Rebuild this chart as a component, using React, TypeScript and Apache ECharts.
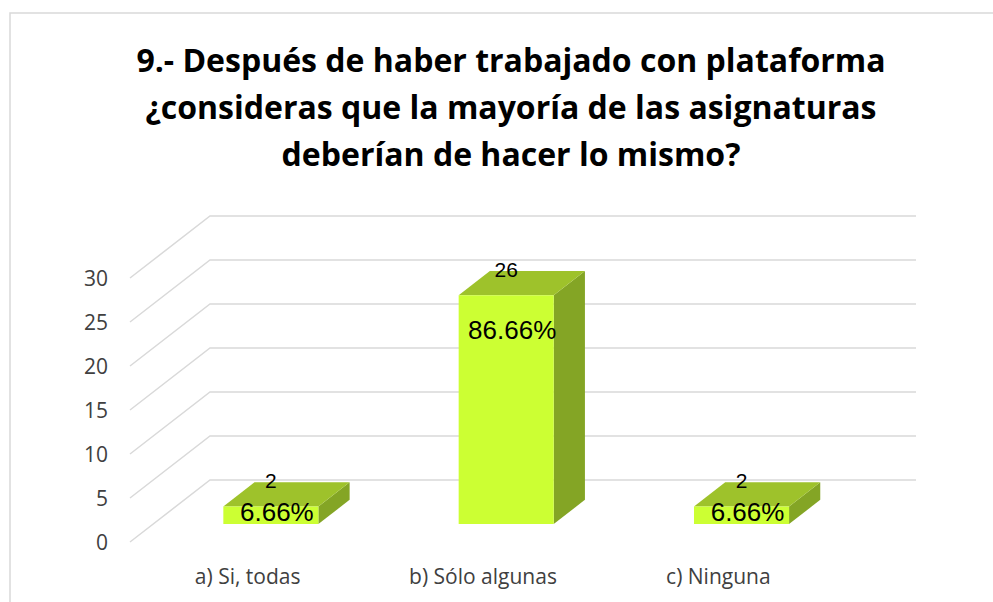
import React, { useEffect, useRef } from "react";
import * as echarts from "echarts";

// ---- data ----
const titleLines = [
  "9.- Después de haber trabajado con plataforma",
  "¿consideras que la mayoría de las asignaturas",
  "deberían de hacer lo mismo?",
];
const categories = ["a) Si, todas", "b) Sólo algunas", "c) Ninguna"];
const counts = [2, 26, 2];
const percentLabels = ["6.66%", "86.66%", "6.66%"];
const yTicks = [0, 5, 10, 15, 20, 25, 30];

// ---- style / layout ----
const DEPTH_X = 80;
const DEPTH_Y = -62;
const BAR_FRONT = 0.29;
const BAR_BACK = 0.68;
const BAR_WIDTH_RATIO = 0.404;
const FRONT = "#CCFF33";
const TOP = "#9EC22B";
const SIDE = "#84A525";
const GRID = "#D9D9D9";
const TEXT = "#404040";

export default function App() {
  const ref = useRef<HTMLDivElement>(null);
  useEffect(() => {
    if (!ref.current) return;
    const chart = echarts.init(ref.current, null, { renderer: "svg" });
    const option: any = {
      animation: false,
      backgroundColor: "#ffffff",
      title: {
        text: titleLines.join("\n"),
        left: 506,
        top: 31,
        textAlign: "center",
        textStyle: {
          fontFamily: "Open Sans",
          fontWeight: "bold",
          fontSize: 32,
          lineHeight: 47,
          color: "#000000",
        },
      },
      graphic: [
        {
          type: "rect",
          shape: { x: 10, y: 13, width: 1100, height: 700 },
          style: { fill: "none", stroke: GRID, lineWidth: 1.5 },
          silent: true,
        },
      ],
      grid: { left: 130, right: 157, top: 278, bottom: 60 },
      xAxis: {
        type: "category",
        data: categories,
        axisLine: { show: false },
        axisTick: { show: false },
        axisLabel: {
          margin: 23,
          fontSize: 21,
          fontFamily: "Open Sans",
          color: TEXT,
        },
      },
      yAxis: {
        type: "value",
        min: 0,
        max: 30,
        interval: 5,
        axisLine: { show: false },
        axisTick: { show: false },
        splitLine: { show: false },
        axisLabel: {
          margin: 22,
          fontSize: 21,
          fontFamily: "Open Sans",
          color: TEXT,
        },
      },
      series: [
        {
          type: "custom",
          silent: true,
          z: 1,
          data: yTicks.map((v) => [0, v]),
          renderItem: (params: any, api: any) => {
            const cs = params.coordSys;
            const y = api.coord([0, api.value(1)])[1];
            return {
              type: "polyline",
              shape: {
                points: [
                  [cs.x, y],
                  [cs.x + DEPTH_X, y + DEPTH_Y],
                  [cs.x + cs.width + DEPTH_X, y + DEPTH_Y],
                ],
              },
              style: { stroke: GRID, lineWidth: 1.5, fill: "none" },
            };
          },
        },
        {
          type: "custom",
          silent: true,
          z: 2,
          data: counts.map((v, i) => [i, v]),
          renderItem: (params: any, api: any) => {
            const i = api.value(0);
            const v = api.value(1);
            const band = api.size([1, 0])[0];
            const [cx, y0] = api.coord([i, 0]);
            const yv = api.coord([i, v])[1];
            const fx = DEPTH_X * BAR_FRONT;
            const fy = DEPTH_Y * BAR_FRONT;
            const dx = DEPTH_X * (BAR_BACK - BAR_FRONT);
            const dy = DEPTH_Y * (BAR_BACK - BAR_FRONT);
            const w = band * BAR_WIDTH_RATIO;
            const x0 = cx - w / 2 + fx;
            const x1 = cx + w / 2 + fx;
            const yt = yv + fy;
            const yb = y0 + fy;
            const h = yb - yt;
            return {
              type: "group",
              children: [
                {
                  type: "polygon",
                  shape: { points: [[x1, yt], [x1 + dx, yt + dy], [x1 + dx, yb + dy], [x1, yb]] },
                  style: { fill: SIDE },
                },
                {
                  type: "polygon",
                  shape: { points: [[x0, yt], [x1, yt], [x1 + dx, yt + dy], [x0 + dx, yt + dy]] },
                  style: { fill: TOP },
                },
                {
                  type: "rect",
                  shape: { x: x0, y: yt, width: w, height: h },
                  style: { fill: FRONT },
                },
                {
                  type: "text",
                  x: (x0 + x1) / 2 + 6,
                  y: yt + Math.min(35, h * 0.3),
                  style: {
                    text: percentLabels[i],
                    fill: "#000000",
                    font: "26px 'Liberation Sans'",
                    textAlign: "center",
                    textVerticalAlign: "middle",
                  },
                },
                {
                  type: "text",
                  x: cx + fx,
                  y: yt + dy - 2,
                  style: {
                    text: String(v),
                    fill: "#000000",
                    font: "21px 'Liberation Sans'",
                    textAlign: "center",
                    textVerticalAlign: "middle",
                  },
                },
              ],
            };
          },
        },
      ],
    };
    chart.setOption(option);
    return () => chart.dispose();
  }, []);
  return (
    <div
      ref={ref}
      style={{ position: "absolute", left: 0, top: 0, width: 993, height: 602, background: "#fff" }}
    />
  );
}
